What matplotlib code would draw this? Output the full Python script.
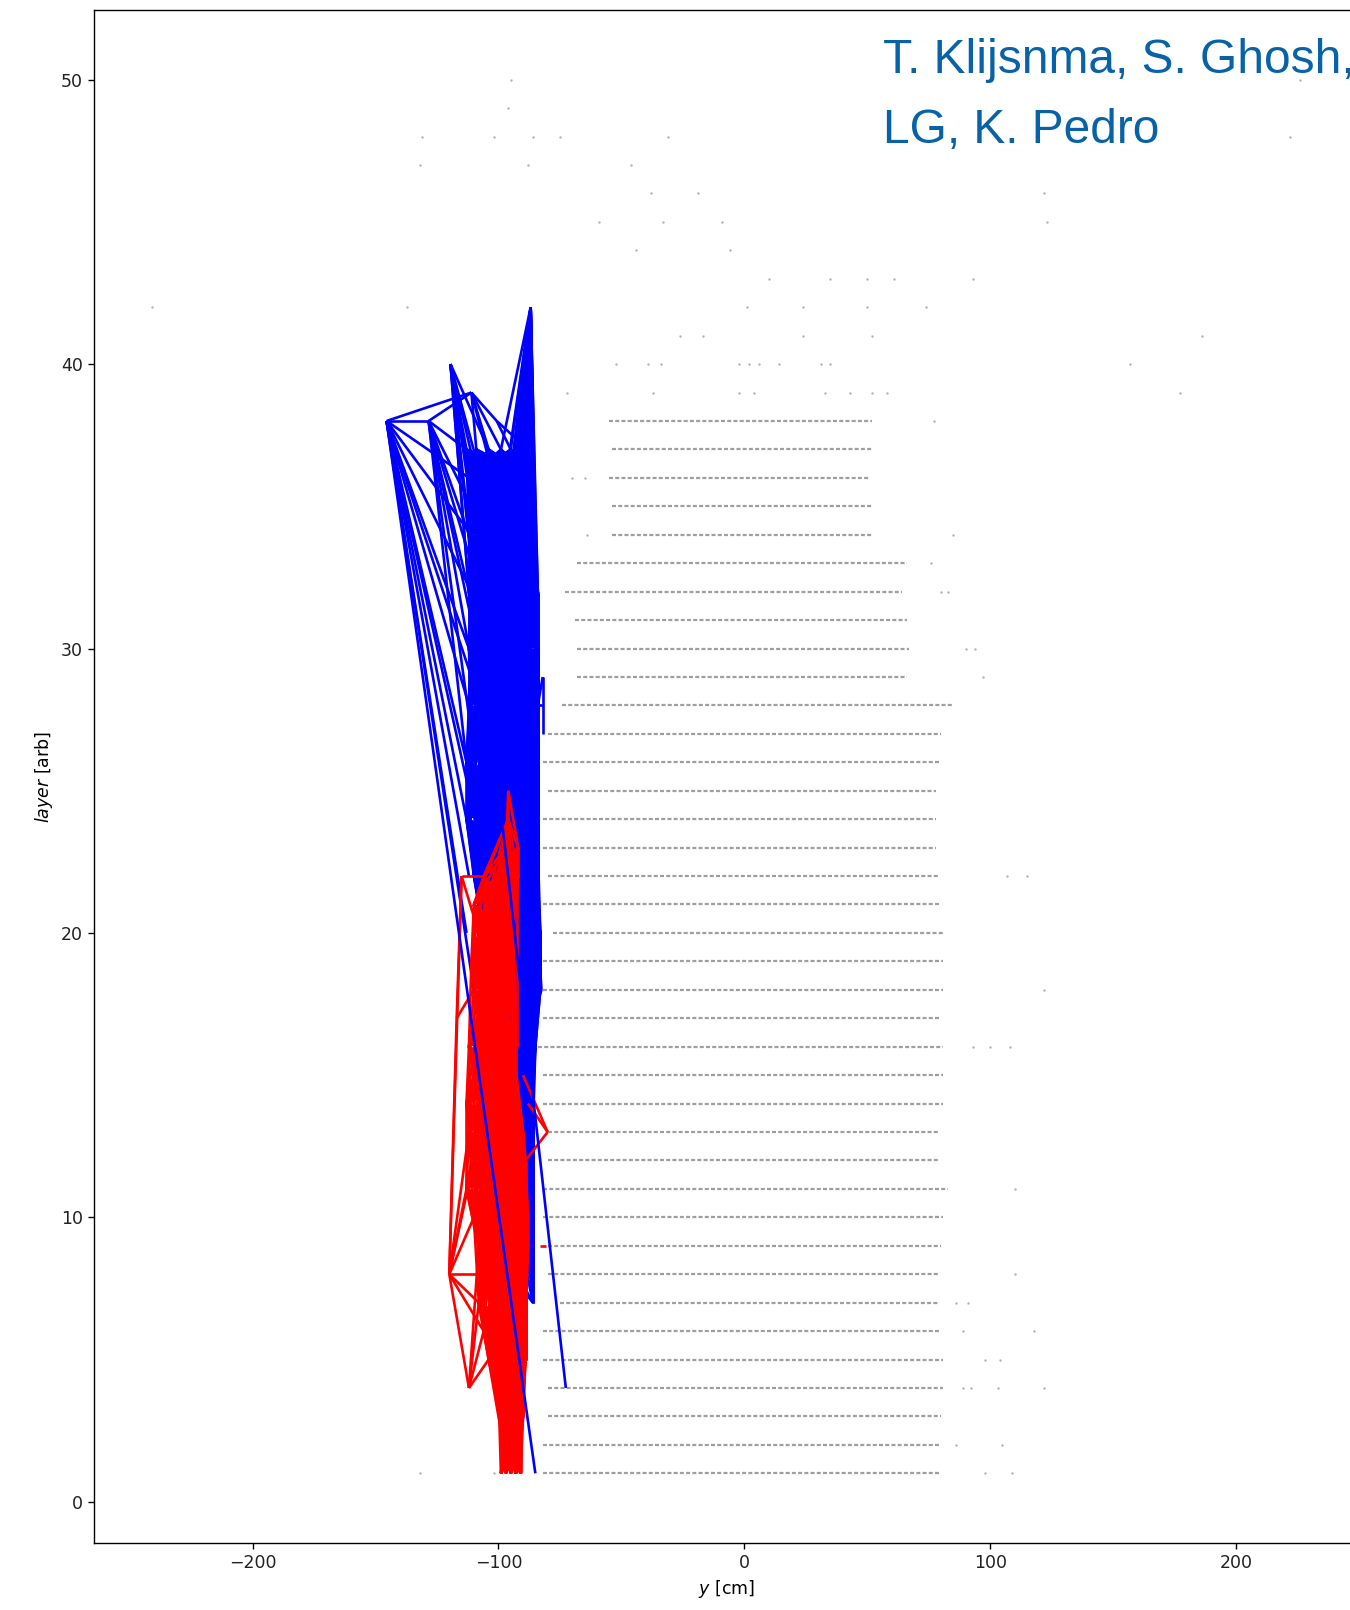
import numpy as np
import matplotlib.pyplot as plt
from matplotlib.collections import LineCollection

# ---- background hits: each layer row drawn between lo and hi (y in cm)
row_layer = list(range(38, 0, -1))
row_lo = [-55, -54, -55, -54, -54, -68, -73, -69, -68, -68, -74, -80, -82, -80, -82, -82,
          -80, -82, -78, -82, -82, -82, -84, -82, -82, -80, -80, -82, -82, -80, -80, -75,
          -82, -82, -80, -80, -82, -82]
row_hi = [52, 52, 51, 52, 52, 66, 64, 66, 67, 66, 85, 80, 79, 78, 78, 78,
          79, 80, 81, 81, 81, 80, 81, 81, 81, 79, 79, 83, 81, 80, 79, 79,
          79, 81, 81, 80, 79, 79]

# isolated hits (y, layer)
stray_y = [-95, -96, 226, -131, -102, -86, -75, -31, 222, -132, -88, -46, -38, -19, 122,
           -59, -33, -9, 123, -44, -6, 10, 35, 50, 61, 93, -241, -137, 1, 24, 50, 74,
           -26, -17, 24, 52, 186, -52, -39, -34, -2, 2, 6, 14, 31, 35, 157,
           -72, -37, -2, 4, 33, 43, 52, 58, 177,
           77, -70, -65, -64, 85, 76, 80, 83, 90, 94, 97, 107, 115, 122, 93, 100, 108,
           110, 110, 86, 91, 89, 118, 98, 104, 89, 92, 103, 122, 86, 105, 98, 109, -132, -102]
stray_l = [50, 49, 50, 48, 48, 48, 48, 48, 48, 47, 47, 47, 46, 46, 46,
           45, 45, 45, 45, 44, 44, 43, 43, 43, 43, 43, 42, 42, 42, 42, 42, 42,
           41, 41, 41, 41, 41, 40, 40, 40, 40, 40, 40, 40, 40, 40, 40,
           39, 39, 39, 39, 39, 39, 39, 39, 39,
           38, 36, 36, 34, 34, 33, 32, 32, 30, 30, 29, 22, 22, 18, 16, 16, 16,
           11, 8, 7, 7, 6, 6, 5, 5, 4, 4, 4, 4, 2, 2, 1, 1, 1, 1]

# ---- blue graph: hits per layer (y in cm), linked to hits in the next layers
blue_hits = {
    37: [-113, -109, -104, -99, -95, -91, -88],
    36: [-112, -107, -102, -97, -93, -89, -86],
    35: [-111, -106, -101, -96, -92, -88, -85],
    34: [-112, -108, -103, -98, -94, -90, -86],
    33: [-111, -106, -101, -97, -93, -89, -85],
    32: [-112, -107, -102, -96, -92, -88, -84],
    31: [-111, -108, -103, -98, -94, -90, -85],
    30: [-112, -107, -101, -97, -92, -88, -84],
    29: [-111, -106, -102, -96, -93, -89, -84],
    28: [-112, -108, -104, -98, -94, -90, -84],
    27: [-111, -107, -101, -97, -92, -88, -84],
    26: [-113, -106, -102, -96, -93, -89, -84],
    25: [-112, -108, -104, -98, -94, -90, -84],
    24: [-113, -107, -101, -97, -92, -88, -84],
    23: [-111, -106, -102, -96, -92, -88, -84],
    22: [-110, -105, -100, -95, -91, -87, -84],
    21: [-108, -103, -98, -94, -90, -86, -84],
    20: [-106, -100, -96, -92, -88, -85, -83],
    19: [-100, -96, -92, -89, -86, -83],
    18: [-98, -94, -91, -88, -85, -83],
    17: [-96, -93, -90, -87, -85],
    16: [-95, -92, -89, -87, -85],
    15: [-94, -91, -89, -86],
    14: [-100, -93, -90, -88, -86],
    13: [-97, -92, -89, -86],
    12: [-95, -91, -88, -86],
    11: [-103, -92, -88, -86],
    10: [-105, -93, -88, -86],
    9: [-104, -88, -86],
    8: [-87, -86],
    7: [-86],
}
# extra blue edges ((y1, layer1), (y2, layer2))
blue_extra = [
    ((-145.5, 38), (-128.4, 38)), ((-145.5, 38), (-111, 39)), ((-128.4, 38), (-111, 39)),
    ((-111, 39), (-100.7, 38)), ((-100.7, 38), (-88, 37)), ((-100.7, 38), (-95, 37)),
    ((-111, 39), (-109, 37)), ((-111, 39), (-104, 37)), ((-111, 39), (-99, 37)), ((-111, 39), (-102, 36)),
    ((-145.5, 38), (-113, 20)), ((-145.5, 38), (-112, 22)), ((-145.5, 38), (-113, 24)),
    ((-145.5, 38), (-113, 26)), ((-145.5, 38), (-112, 28)), ((-145.5, 38), (-112, 30)),
    ((-145.5, 38), (-111, 32)), ((-145.5, 38), (-111, 34)), ((-145.5, 38), (-112, 36)),
    ((-145.5, 38), (-111, 29)), ((-145.5, 38), (-112, 25)), ((-145.5, 38), (-110, 18)),
    ((-128.4, 38), (-112, 30)), ((-128.4, 38), (-111, 31)), ((-128.4, 38), (-112, 32)),
    ((-128.4, 38), (-111, 33)), ((-128.4, 38), (-112, 34)), ((-128.4, 38), (-111, 35)),
    ((-128.4, 38), (-113, 26)), ((-128.4, 38), (-111, 27)), ((-128.4, 38), (-113, 37)),
    ((-119.5, 40), (-113, 37)), ((-119.5, 40), (-104, 37)), ((-119.5, 40), (-112, 36)),
    ((-119.5, 40), (-107, 36)), ((-119.5, 40), (-111, 35)), ((-119.5, 40), (-106, 35)),
    ((-119.5, 40), (-112, 34)), ((-119.5, 40), (-108, 34)), ((-119.5, 40), (-111, 33)),
    ((-119.5, 40), (-106, 33)), ((-119.5, 40), (-112, 32)), ((-119.5, 40), (-111, 31)),
    ((-82, 29), (-82, 27)), ((-86, 28), (-82, 28)), ((-82, 29), (-84, 28)),
    ((-84, 20), (-82.5, 18)), ((-82.5, 18), (-86, 17)),
]
blue_peak = (-86.9, 42)
blue_long = [((-145.5, 38), (-85, 1)), ((-119.5, 40), (-72.6, 4))]

# ---- red graph
red_hits = {
    24: [-96],
    23: [-97, -92],
    22: [-106, -100, -97, -92],
    21: [-110, -105, -101, -97, -94],
    20: [-108, -104, -100, -97, -94],
    19: [-111, -106, -102, -99, -95],
    18: [-110, -105, -101, -98, -95],
    17: [-108, -104, -100, -97, -93],
    16: [-112, -106, -102, -98, -94],
    15: [-110, -105, -101, -97, -93],
    14: [-113, -107, -102, -98, -94],
    13: [-112, -106, -101, -97, -93, -90],
    12: [-110, -105, -100, -96, -92, -89],
    11: [-113, -107, -102, -97, -93, -89],
    10: [-110, -104, -99, -95, -91, -88],
    9: [-108, -103, -98, -94, -90, -88],
    8: [-106, -101, -97, -93, -89],
    7: [-108, -102, -97, -93, -89],
    6: [-106, -100, -96, -92, -89],
    5: [-104, -99, -95, -92, -89],
    4: [-100, -96, -93, -90],
    3: [-99, -96, -93, -90],
    2: [-98, -95, -93, -91],
    1: [-99, -97, -95, -93, -91],
}
red_extra = [
    ((-115, 22), (-106, 22)), ((-115, 22), (-108, 20)), ((-115, 22), (-120, 8)),
    ((-115, 22), (-117, 17)), ((-117, 17), (-110, 18)), ((-117, 17), (-120, 8)),
    ((-120, 8), (-106, 8)), ((-120, 8), (-112, 13)), ((-120, 8), (-113, 11)),
    ((-120, 8), (-110, 12)), ((-120, 8), (-106, 6)), ((-120, 8), (-108, 7)),
    ((-120, 8), (-110, 10)), ((-120, 8), (-112, 4)),
    ((-112, 4), (-106, 6)), ((-112, 4), (-108, 7)), ((-112, 4), (-104, 5)), ((-112, 4), (-108, 9)),
    ((-80, 13), (-88, 14)), ((-80, 13), (-89, 12)), ((-80, 13), (-90, 15)),
    ((-96, 25), (-96, 21)), ((-96, 25), (-97, 23)), ((-96, 25), (-92, 23)),
    ((-92.5, 22), (-92.5, 16)), ((-83, 9), (-80.5, 9)),
]


def link(hits, steps):
    segs = []
    for lay, ys in hits.items():
        for s in steps:
            for a in ys:
                for b in hits.get(lay + s, []):
                    segs.append([(a, lay), (b, lay + s)])
    return segs


fig = plt.figure(figsize=(13.5, 16.1), dpi=100)
ax = fig.add_axes([94 / 1350, 67 / 1610, 1265 / 1350, 1533 / 1610])

ax.hlines(row_layer, row_lo, row_hi, colors='k', alpha=0.38, lw=1.6,
          linestyles=(0, (1.8, 1.0)))
ax.scatter(stray_y, stray_l, s=3, c='k', alpha=0.3, linewidths=0)

blue_segs = link(blue_hits, (1, 2, 3)) + [list(e) for e in blue_extra]
for lay in range(28, 38):
    for b in blue_hits[lay]:
        if b >= -100:
            blue_segs.append([blue_peak, (b, lay)])
ax.add_collection(LineCollection(blue_segs, colors='blue', linewidths=1.9))

red_segs = link(red_hits, (1, 2, 3)) + [list(e) for e in red_extra]
ax.add_collection(LineCollection(red_segs, colors='red', linewidths=1.9))
ax.add_collection(LineCollection([list(e) for e in blue_long], colors='blue', linewidths=1.9))

ax.set_xlim(-264.5, 250)
ax.set_ylim(-1.45, 52.45)
ax.set_yticks([0, 10, 20, 30, 40, 50])
ax.set_xticks([-200, -100, 0, 100, 200])
ax.tick_params(labelsize=12.5, length=4.5, width=1.0, labelcolor='#222222')
for sp in ax.spines.values():
    sp.set_linewidth(1.0)
ax.set_xlabel('$y$ [cm]', fontsize=12.5)
ax.set_ylabel('$layer$ [arb]', fontsize=12.5)

fig.text(883 / 1350, 1 - 73 / 1610, 'T. Klijsnma, S. Ghosh,', fontsize=34.5,
         family='Liberation Sans', color='#0862a8', va='baseline')
fig.text(883 / 1350, 1 - 143 / 1610, 'LG, K. Pedro', fontsize=34.5,
         family='Liberation Sans', color='#0862a8', va='baseline')

fig.savefig('out.png', dpi=100)
